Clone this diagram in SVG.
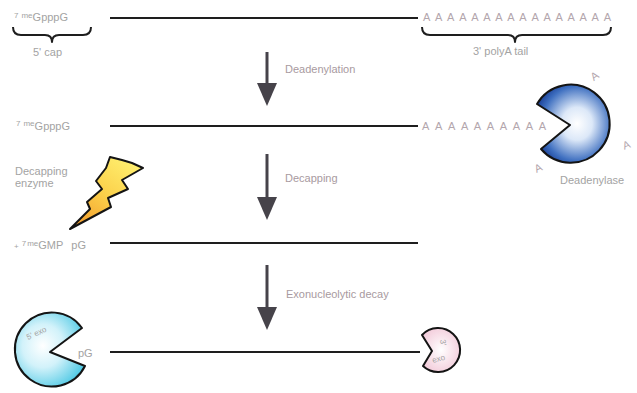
<svg xmlns="http://www.w3.org/2000/svg" width="637" height="393" viewBox="0 0 637 393">
  <style>
    .strand { stroke: #1e1e1e; stroke-width: 2.2; fill: none; }
    .brace { stroke: #1e1e1e; stroke-width: 2; fill: none; stroke-linejoin: round; }
    .step { stroke: #46434a; stroke-width: 3; fill: none; }
    .lbl { font-family: "Liberation Sans", Arial, sans-serif; font-size: 11px; fill: #a3a3a3; }
    .sm { font-size: 8px; }
    .polya { font-family: "Liberation Sans", Arial, sans-serif; font-size: 11px; fill: #b3a6ad; }
    .step-lbl { font-family: "Liberation Sans", Arial, sans-serif; font-size: 11px; fill: #a89aa0; }
    .outline { stroke: #141414; stroke-width: 2; stroke-linejoin: round; }
  </style>
  <defs>
    <!-- arrowhead: base sits on the line end, tip 22px further along -->
    <marker id="head" markerUnits="userSpaceOnUse" markerWidth="24" markerHeight="22" refX="1" refY="11" orient="auto" viewBox="0 0 24 22">
      <path d="M0,1 L23,11 L0,21 Z" fill="#46434a"/>
    </marker>
    <radialGradient id="blueFill" cx="0.55" cy="0.5" r="0.6">
      <stop offset="0" stop-color="#ffffff"/>
      <stop offset="0.35" stop-color="#dce8f8"/>
      <stop offset="0.8" stop-color="#3e6fc0"/>
      <stop offset="1" stop-color="#1a3f96"/>
    </radialGradient>
    <radialGradient id="cyanFill" cx="0.4" cy="0.45" r="0.65">
      <stop offset="0" stop-color="#ffffff"/>
      <stop offset="0.45" stop-color="#d2f2fa"/>
      <stop offset="1" stop-color="#4cc8e4"/>
    </radialGradient>
    <radialGradient id="pinkFill" cx="0.5" cy="0.5" r="0.6">
      <stop offset="0" stop-color="#ffffff"/>
      <stop offset="1" stop-color="#f2c8d8"/>
    </radialGradient>
    <linearGradient id="boltFill" x1="0.8" y1="0" x2="0.1" y2="1">
      <stop offset="0" stop-color="#fff070"/>
      <stop offset="0.5" stop-color="#fbd04a"/>
      <stop offset="1" stop-color="#f39a2c"/>
    </linearGradient>
  </defs>

  <!-- mRNA strands at each stage -->
  <g id="mrna-full">
    <line class="strand" x1="110" y1="18" x2="418" y2="18"/>
    <text class="lbl" x="14" y="21"><tspan class="sm" dy="-3">7</tspan><tspan class="sm" dx="3">me</tspan><tspan dy="3">GpppG</tspan></text>
    <text class="polya" x="423" y="21" textLength="188" lengthAdjust="spacing">AAAAAAAAAAAAAAAA</text>
  </g>
  <g id="cap-brace">
    <path class="brace" d="M13,27 Q13,35 21,35 L45,35 Q52,35 52,42 Q52,35 59,35 L83,35 Q91,35 91,27"/>
    <text class="lbl" x="33" y="56">5' cap</text>
  </g>
  <g id="tail-brace">
    <path class="brace" d="M422,27 Q422,35 430,35 L508,35 Q515,35 515,42 Q515,35 522,35 L603,35 Q611,35 611,27"/>
    <text class="lbl" x="473" y="55">3' polyA tail</text>
  </g>

  <g id="mrna-deadenylated">
    <line class="strand" x1="110" y1="126" x2="418" y2="126"/>
    <text class="lbl" x="16" y="130"><tspan class="sm" dy="-4">7</tspan><tspan class="sm" dx="3">me</tspan><tspan dy="4">GpppG</tspan></text>
    <text class="polya" x="422" y="130" textLength="124" lengthAdjust="spacing">AAAAAAAAAA</text>
  </g>

  <g id="mrna-decapped">
    <line class="strand" x1="110" y1="243" x2="418" y2="243"/>
    <text class="lbl" x="14" y="249"><tspan class="sm">+</tspan><tspan class="sm" dx="3" dy="-3">7</tspan><tspan class="sm" dx="1">me</tspan><tspan dy="3">GMP</tspan><tspan dx="8">pG</tspan></text>
  </g>

  <g id="mrna-decay">
    <line class="strand" x1="110" y1="352" x2="420" y2="352"/>
    <text class="lbl" x="78" y="357">pG</text>
  </g>

  <!-- Deadenylase -->
  <g id="deadenylase">
    <path class="outline" d="M570,125 L537,104 A39,39 0 1 1 541,149 Z" fill="url(#blueFill)" stroke="#0e1f58"/>
    <text class="polya" x="592" y="80" transform="rotate(-35 595 78)">A</text>
    <text class="polya" x="623" y="149" transform="rotate(-20 626 146)">A</text>
    <text class="polya" x="535" y="172" transform="rotate(-25 538 169)">A</text>
    <text class="lbl" x="560" y="184">Deadenylase</text>
  </g>

  <!-- Decapping enzyme -->
  <g id="decapping-enzyme">
    <text class="lbl" x="15" y="175">Decapping</text>
    <text class="lbl" x="15" y="187">enzyme</text>
    <path class="outline" fill="url(#boltFill)" d="M110,157 L122,160 L132,163 L143,168 L122,180 L128,189 L108,198 L111,207 L70,229 L90,209 L87,202 L102,189 L96,181 L106,168 Z"/>
  </g>

  <!-- 5' exonuclease -->
  <g id="exo-5">
    <path class="outline" d="M50,352 L82,328 A37,37 0 1 0 85,366 Z" fill="url(#cyanFill)"/>
    <text class="lbl sm" x="28" y="340" fill="#8aa0b0" transform="rotate(-25 28 340)">5' exo</text>
  </g>

  <!-- 3' exonuclease -->
  <g id="exo-3">
    <path class="outline" d="M432,351 L422,335 A22,22 0 1 1 423,366 Z" fill="url(#pinkFill)"/>
    <text class="lbl sm" x="440" y="340" fill="#8e8e8e" transform="rotate(80 440 340)">3'</text>
    <text class="lbl sm" x="433" y="363" fill="#8e8e8e" transform="rotate(-15 433 363)">exo</text>
  </g>

  <!-- process steps -->
  <g id="connectors">
    <line class="step" x1="267" y1="52" x2="267" y2="84" marker-end="url(#head)"/>
    <line class="step" x1="267" y1="154" x2="267" y2="198" marker-end="url(#head)"/>
    <line class="step" x1="267" y1="265" x2="267" y2="308" marker-end="url(#head)"/>
    <text class="step-lbl" x="285" y="73">Deadenylation</text>
    <text class="step-lbl" x="285" y="182">Decapping</text>
    <text class="step-lbl" x="286" y="298">Exonucleolytic decay</text>
  </g>
</svg>
